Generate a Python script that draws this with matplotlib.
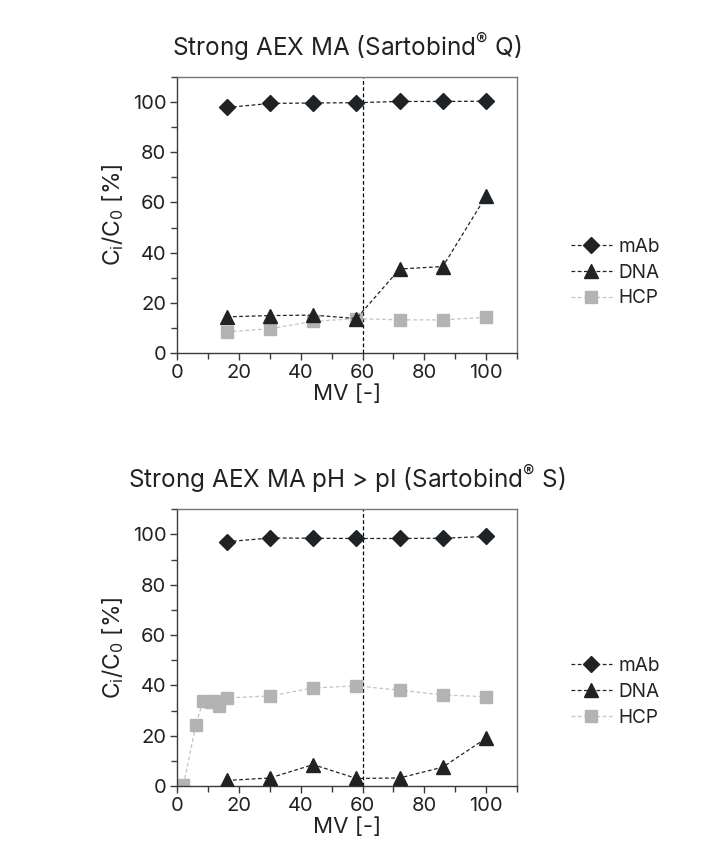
import matplotlib
matplotlib.use("Agg")
import matplotlib.pyplot as plt
from matplotlib.ticker import MultipleLocator

plt.rcParams['font.family'] = ['Inter', 'DejaVu Sans']
plt.rcParams['mathtext.fontset'] = 'custom'
plt.rcParams['mathtext.rm'] = 'Inter'

# top panel: Sartobind Q
mv_q = [16, 30, 44, 58, 72, 86, 100]
mab_q = [97.7, 99.3, 99.5, 99.6, 100.1, 100.1, 100.2]
dna_q = [14.5, 15.0, 15.2, 13.8, 33.5, 34.5, 62.5]
hcp_q = [8.5, 9.8, 12.7, 13.8, 13.3, 13.3, 14.3]

# bottom panel: Sartobind S
mv_s = [16, 30, 44, 58, 72, 86, 100]
mab_s = [97.1, 98.6, 98.5, 98.4, 98.4, 98.5, 99.2]
dna_s = [2.2, 3.2, 8.5, 3.0, 3.2, 7.5, 19.0]
mv_s_hcp = [2, 6, 8.3, 10.8, 12, 13.5, 16, 30, 44, 58, 72, 86, 100]
hcp_s = [0.5, 24.2, 33.8, 33.4, 33.9, 32.0, 35.0, 35.8, 39.0, 39.8, 38.1, 36.2, 35.5]

titles = ['Strong AEX MA (Sartobind$^{\\mathregular{®}}$ Q)',
          'Strong AEX MA pH > pI (Sartobind$^{\\mathregular{®}}$ S)']
legend_y = [0.292, 0.34]

dark = '#1f2326'
grey = '#b3b3b3'
spine_col = '#3a3a3a'
txt = '#222222'

fig = plt.figure(figsize=(7.15, 8.58), dpi=100)
ax1 = fig.add_axes([0.248, 0.5882, 0.475, 0.3226])
ax2 = fig.add_axes([0.248, 0.0839, 0.475, 0.3225])

panels = [
    (ax1, mv_q, mab_q, dna_q, mv_q, hcp_q, titles[0], legend_y[0]),
    (ax2, mv_s, mab_s, dna_s, mv_s_hcp, hcp_s, titles[1], legend_y[1]),
]

for ax, x, mab, dna, xh, hcp, title, ly in panels:
    ax.axvline(60, color='black', lw=0.9, ls=(0, (3, 2)), zorder=1)
    ax.plot(xh, hcp, ls=(0, (3, 2)), lw=0.9, color='#c4c4c4', marker='s',
            markersize=8.5, markerfacecolor=grey, markeredgecolor=grey, label='HCP', zorder=2)
    ax.plot(x, dna, ls=(0, (3, 2)), lw=0.9, color=dark, marker='^',
            markersize=10, markerfacecolor=dark, markeredgecolor=dark, label='DNA', zorder=3)
    ax.plot(x, mab, ls=(0, (3, 2)), lw=0.9, color=dark, marker='D',
            markersize=8.5, markerfacecolor=dark, markeredgecolor=dark, label='mAb', zorder=4)

    ax.set_xlim(0, 110)
    ax.set_ylim(0, 110)
    ax.xaxis.set_minor_locator(MultipleLocator(10))
    ax.yaxis.set_minor_locator(MultipleLocator(10))
    ax.set_xticks([0, 20, 40, 60, 80, 100])
    ax.set_yticks([0, 20, 40, 60, 80, 100])
    ax.tick_params(which='major', direction='out', length=5, width=1, color=spine_col,
                   labelsize=14.5, pad=3, labelcolor=txt)
    ax.tick_params(which='minor', direction='out', length=4, width=1, color=spine_col)
    for sp in ax.spines.values():
        sp.set_color(spine_col)
        sp.set_linewidth(1)
    for sp in ['top', 'right']:
        ax.spines[sp].set_color('#777777')

    ax.set_xlabel('MV [-]', fontsize=16, color=txt, labelpad=1)
    ax.set_ylabel('C$_\\mathregular{i}$/C$_\\mathregular{0}$ [%]', fontsize=16.5,
                  color=txt, labelpad=5)
    ax.set_title(title, fontsize=17.5, color=txt, pad=15)

    h, l = ax.get_legend_handles_labels()
    order = [2, 1, 0]
    ax.legend([h[i] for i in order], [l[i] for i in order], loc='center left',
              bbox_to_anchor=(1.159, ly), frameon=False, fontsize=13.7,
              handlelength=2.15, handletextpad=0.35, labelspacing=0.42,
              labelcolor=txt, borderaxespad=0, borderpad=0)

fig.savefig('out.png', dpi=100)
